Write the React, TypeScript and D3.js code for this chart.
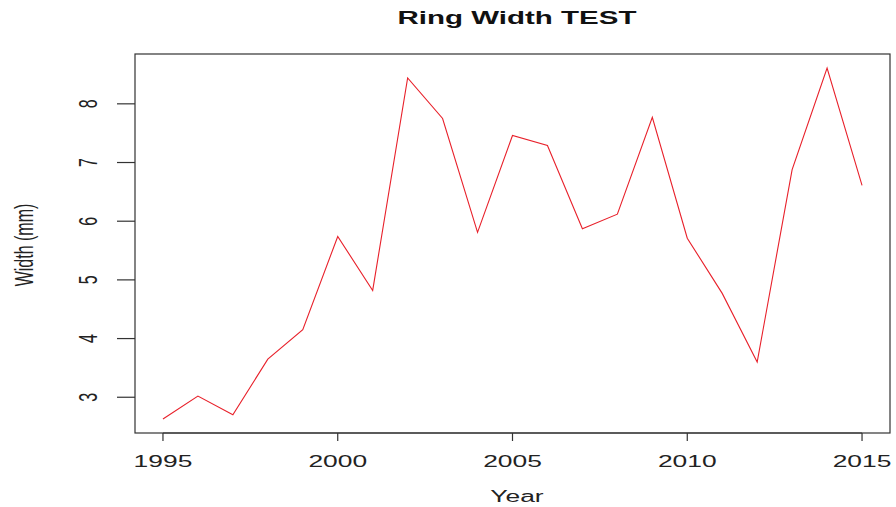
import React from "react";
import * as d3 from "d3";

const years = [1995, 1996, 1997, 1998, 1999, 2000, 2001, 2002, 2003, 2004, 2005, 2006, 2007, 2008, 2009, 2010, 2011, 2012, 2013, 2014, 2015];
const widths = [2.63, 3.02, 2.70, 3.65, 4.15, 5.74, 4.82, 8.44, 7.75, 5.81, 7.46, 7.29, 5.87, 6.12, 7.77, 5.71, 4.77, 3.60, 6.88, 8.61, 6.61];
const xTicks = [1995, 2000, 2005, 2010, 2015];
const yTicks = [3, 4, 5, 6, 7, 8];
const title = "Ring Width TEST";
const xLabel = "Year";
const yLabel = "Width (mm)";

const W = 896;
const H = 507;
const SX = 1.65;
const FONT = "'Liberation Sans', Arial, Helvetica, sans-serif";

export default function App() {
  const left = 135, right = 890, top = 54, bottom = 433;
  const xMin = d3.min(years)!, xMax = d3.max(years)!;
  const yMin = d3.min(widths)!, yMax = d3.max(widths)!;
  const xPad = (xMax - xMin) * 0.04;
  const yPad = (yMax - yMin) * 0.04;
  const x = d3.scaleLinear().domain([xMin - xPad, xMax + xPad]).range([left, right]);
  const y = d3.scaleLinear().domain([yMin - yPad, yMax + yPad]).range([bottom, top]);
  const line = d3.line<number>().x((_, i) => x(years[i])).y((d) => y(d));
  const axisColor = "#333";

  return (
    <svg width={W} height={H} style={{ position: "absolute", left: 0, top: 0, background: "#fff" }} fontFamily={FONT}>
      <rect x={0} y={0} width={W} height={H} fill="#fff" />
      <text transform={`translate(517,24) scale(${1.64},1)`} textAnchor="middle" fontWeight="bold" fontSize={18} fill="#111">
        {title}
      </text>
      <rect x={left} y={top} width={right - left} height={bottom - top} fill="none" stroke={axisColor} strokeWidth={1.2} />
      <path d={line(widths) || ""} fill="none" stroke="#e8202a" strokeWidth={1.1} />
      {/* x axis */}
      <line x1={x(xTicks[0])} x2={x(xTicks[xTicks.length - 1])} y1={bottom} y2={bottom} stroke={axisColor} strokeWidth={1.2} />
      {xTicks.map((t) => (
        <g key={t}>
          <line x1={x(t)} x2={x(t)} y1={bottom} y2={bottom + 8} stroke={axisColor} strokeWidth={1.2} />
          <text transform={`translate(${x(t)},467) scale(${SX},1)`} textAnchor="middle" fontSize={16} fill="#222">
            {t}
          </text>
        </g>
      ))}
      {/* y axis */}
      {yTicks.map((t) => (
        <g key={t}>
          <line x1={left - 18} x2={left} y1={y(t)} y2={y(t)} stroke={axisColor} strokeWidth={1.2} />
          <text transform={`translate(97,${y(t)}) scale(${SX},1) rotate(-90)`} textAnchor="middle" fontSize={16} fill="#222">
            {t}
          </text>
        </g>
      ))}
      <text transform={`translate(517,502) scale(${SX},1)`} textAnchor="middle" fontSize={16} fill="#222">
        {xLabel}
      </text>
      <text transform={`translate(33,245) scale(${SX},1) rotate(-90)`} textAnchor="middle" fontSize={16} fill="#222">
        {yLabel}
      </text>
    </svg>
  );
}
